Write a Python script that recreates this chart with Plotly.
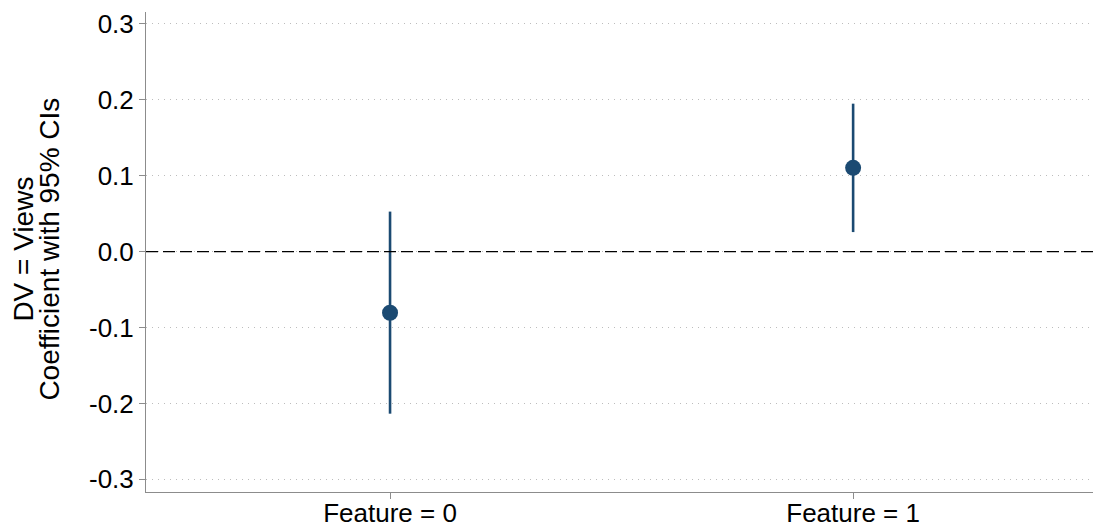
import plotly.graph_objects as go

# Coefficient estimates with 95% confidence intervals
categories = ["Feature = 0", "Feature = 1"]
coef = [-0.0805, 0.1105]
ci_low = [-0.2135, 0.0258]
ci_high = [0.0528, 0.1950]
y_ticks = [0.3, 0.2, 0.1, 0.0, -0.1, -0.2, -0.3]
y_tick_text = ["0.3", "0.2", "0.1", "0.0", "-0.1", "-0.2", "-0.3"]
y_title_lines = ["DV = Views", "Coefficient with 95% CIs"]

xpos = list(range(len(categories)))
color = "#1b4a72"
font_family = "Liberation Sans, Arial, sans-serif"
fsize = 26
title_size = 28

W, H = 1093, 529
ML, MR, MT, MB = 146, 0, 12, 37
plot_w = W - ML - MR

fig = go.Figure()
fig.add_trace(go.Scatter(
    x=xpos,
    y=coef,
    mode="markers",
    marker=dict(size=16, color=color),
    error_y=dict(
        type="data",
        symmetric=False,
        array=[h - c for h, c in zip(ci_high, coef)],
        arrayminus=[c - l for c, l in zip(coef, ci_low)],
        thickness=2.6,
        width=0,
        color=color,
    ),
    showlegend=False,
))

# Reference line at zero
fig.add_hline(y=0, line=dict(color="black", width=1.3, dash="12px,5px"), layer="above")

# Two-line y-axis title, placed as rotated annotations for tight line spacing
for line, px in zip(y_title_lines, [24, 50]):
    fig.add_annotation(
        text=line,
        xref="paper", yref="paper",
        x=(px - ML) / plot_w, y=0.505,
        xanchor="center", yanchor="middle",
        textangle=-90,
        showarrow=False,
        font=dict(size=title_size, family=font_family, color="black"),
    )

fig.update_layout(
    width=W,
    height=H,
    margin=dict(l=ML, r=MR, t=MT, b=MB),
    paper_bgcolor="white",
    plot_bgcolor="white",
    font=dict(family=font_family, size=fsize, color="black"),
    xaxis=dict(
        range=[-0.527, 1.518],
        tickvals=xpos,
        ticktext=categories,
        showgrid=False,
        zeroline=False,
        showline=True,
        linecolor="#8c8c8c",
        linewidth=1,
        ticks="outside",
        ticklen=6,
        tickcolor="#8c8c8c",
        tickfont=dict(size=fsize),
        ticklabelstandoff=-8,
        automargin=False,
    ),
    yaxis=dict(
        range=[-0.3167, 0.3158],
        tickvals=y_ticks,
        ticktext=y_tick_text,
        showgrid=True,
        gridcolor="#bdbdbd",
        griddash="1px,5px",
        gridwidth=1,
        zeroline=False,
        showline=True,
        linecolor="#8c8c8c",
        linewidth=1,
        ticks="outside",
        ticklen=6,
        tickcolor="#8c8c8c",
        tickfont=dict(size=fsize),
        automargin=False,
    ),
)

fig.write_html("out.html")
